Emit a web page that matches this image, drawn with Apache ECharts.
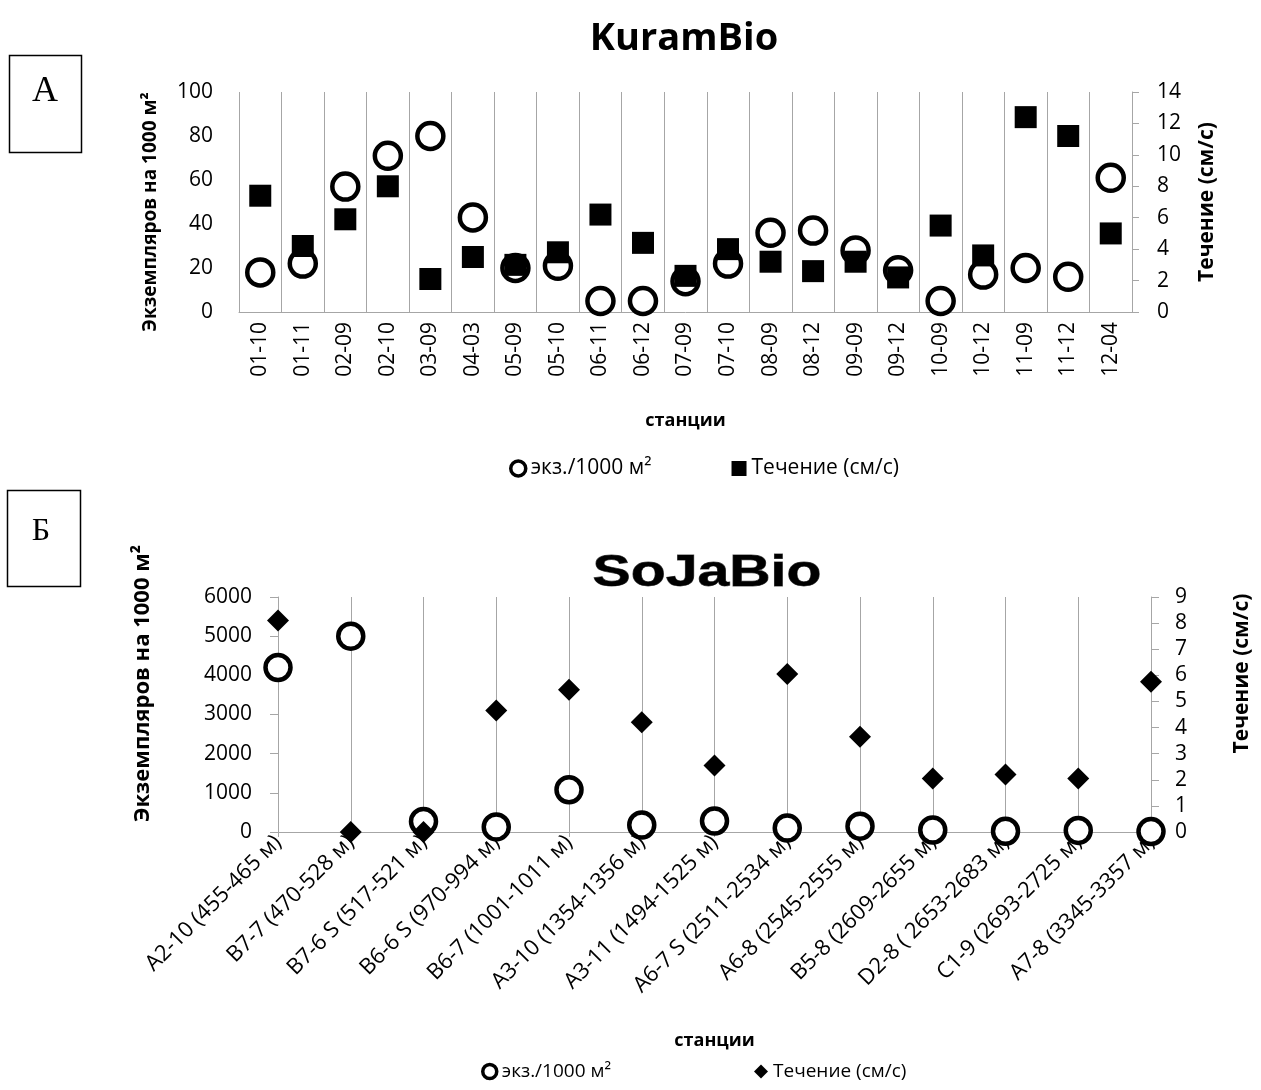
<!DOCTYPE html>
<html><head><meta charset="utf-8">
<script src="https://cdn.jsdelivr.net/npm/echarts@6/dist/echarts.min.js"></script>
<style>
html,body{margin:0;padding:0;background:#fff;}
#c1{position:absolute;left:0;top:0;width:1261px;height:480px;}
#c2{position:absolute;left:0;top:480px;width:1261px;height:610px;}
</style>
</head><body>
<div id="c1"></div><div id="c2"></div>
<script>
// ---------- DATA ----------
const kuramStations = ['01-10','01-11','02-09','02-10','03-09','04-03','05-09','05-10','06-11','06-12','07-09','07-10','08-09','08-12','09-09','09-12','10-09','10-12','11-09','11-12','12-04'];
const kuramDensity = [18, 22, 57, 71, 80, 43, 20, 21, 5, 5, 14, 22, 36, 37, 28, 19, 5, 17, 20, 16, 61];
const kuramCurrent = [7.4, 4.2, 5.9, 8.0, 2.1, 3.5, 3.0, 3.8, 6.2, 4.4, 2.3, 4.0, 3.2, 2.6, 3.2, 2.2, 5.5, 3.6, 12.4, 11.2, 5.0];

const sojaStations = ['A2-10 (455-465 м)','B7-7 (470-528 м)','B7-6 S (517-521 м)','B6-6 S (970-994 м)','B6-7 (1001-1011 м)','A3-10 (1354-1356 м)','A3-11 (1494-1525 м)','A6-7 S (2511-2534 м)','A6-8 (2545-2555 м)','B5-8 (2609-2655 м)','D2-8 ( 2653-2683 м)','C1-9 (2693-2725 м)','A7-8 (3345-3357 м)'];
const sojaDensity = [4200, 5000, 270, 130, 1080, 180, 280, 100, 150, 50, 20, 40, 10];
const sojaCurrent = [8.1, 0, 0, 4.65, 5.45, 4.2, 2.55, 6.05, 3.65, 2.05, 2.2, 2.05, 5.75];

const seriesNames = ['экз./1000 м²', 'Течение (см/с)'];
const axisNames = {density: 'Экземпляров на 1000 м²', current: 'Течение (см/с)', x: 'станции'};
const titles = ['KuramBio', 'SoJaBio'];
const panelLetters = ['А', 'Б'];

// ---------- STYLE ----------
const FONT = 'Open Sans';
const GRAY = '#a6a6a6';
const txt = (size, bold) => ({fontFamily: FONT, fontSize: size, color: '#000', fontWeight: bold ? 'bold' : 'normal'});
const plain = v => String(v);

// ---------- TOP CHART (KuramBio) ----------
const c1 = echarts.init(document.getElementById('c1'), null, {renderer: 'canvas'});
c1.setOption({
  animation: false,
  title: {text: titles[0], left: 679, top: 15, textAlign: 'center',
          textStyle: {fontFamily: FONT, fontSize: 38, fontWeight: 'bold', color: '#000'}},
  grid: {left: 239, right: 129, top: 92, height: 220},
  xAxis: {
    type: 'category', data: kuramStations, boundaryGap: true,
    axisLine: {lineStyle: {color: GRAY, width: 1}},
    axisTick: {show: false},
    splitLine: {show: true, lineStyle: {color: GRAY, width: 1}},
    axisLabel: Object.assign({rotate: 90, margin: 10, interval: 0}, txt(21)),
    name: axisNames.x, nameLocation: 'middle', nameGap: 100,
    nameTextStyle: txt(18, true)
  },
  yAxis: [
    {type: 'value', min: 0, max: 100, interval: 20, position: 'left',
     axisLine: {show: false}, axisTick: {show: false}, splitLine: {show: false},
     axisLabel: Object.assign({margin: 26, formatter: plain}, txt(21)),
     name: axisNames.density, nameLocation: 'middle', nameRotate: 90, nameGap: 79,
     nameTextStyle: Object.assign({padding: [0, 20, 0, 0]}, txt(19, true))},
    {type: 'value', min: 0, max: 14, interval: 2, position: 'right',
     axisLine: {show: true, lineStyle: {color: GRAY}},
     axisTick: {show: true, length: 7, lineStyle: {color: GRAY}},
     splitLine: {show: false},
     axisLabel: Object.assign({margin: 25, formatter: plain}, txt(21)),
     name: axisNames.current, nameLocation: 'middle', nameRotate: 90, nameGap: 65,
     nameTextStyle: txt(21, true)}
  ],
  legend: {
    left: 504, top: 453, itemGap: 80, itemWidth: 15, itemHeight: 15,
    textStyle: txt(21),
    data: [
      {name: seriesNames[0], icon: 'circle', itemStyle: {color: '#fff', borderColor: '#000', borderWidth: 3.5, opacity: 1}},
      {name: seriesNames[1], icon: 'rect', itemStyle: {color: '#000', opacity: 1}}
    ]
  },
  series: [
    {name: seriesNames[0], type: 'scatter', yAxisIndex: 0, data: kuramDensity, clip: false,
     symbol: 'circle', symbolSize: 26, z: 2,
     itemStyle: {color: '#fff', borderColor: '#000', borderWidth: 4.5, opacity: 1}},
    {name: seriesNames[1], type: 'scatter', yAxisIndex: 1, data: kuramCurrent, clip: false,
     symbol: 'rect', symbolSize: 22, z: 3,
     itemStyle: {color: '#000', opacity: 1}}
  ],
  graphic: [
    {type: 'rect', shape: {x: 9.5, y: 55.5, width: 72, height: 97}, style: {fill: '#fff', stroke: '#000', lineWidth: 1.5}},
    {type: 'text', x: 45, y: 92, style: {text: panelLetters[0], font: '36px "Liberation Serif"', fill: '#000', textAlign: 'center', textVerticalAlign: 'middle'}}
  ]
});

// ---------- BOTTOM CHART (SoJaBio) ----------
const c2 = echarts.init(document.getElementById('c2'), null, {renderer: 'canvas'});
c2.setOption({
  animation: false,
  grid: {left: 278, right: 107, top: 117, height: 235},
  xAxis: {
    type: 'category', data: sojaStations, boundaryGap: false,
    axisLine: {lineStyle: {color: GRAY, width: 1}},
    axisTick: {show: true, length: 5, lineStyle: {color: GRAY}},
    splitLine: {show: true, lineStyle: {color: GRAY, width: 1}},
    axisLabel: Object.assign({rotate: 45, margin: 7, interval: 0}, txt(22)),
    name: axisNames.x, nameLocation: 'middle', nameGap: 200,
    nameTextStyle: txt(18, true)
  },
  yAxis: [
    {type: 'value', min: 0, max: 6000, interval: 1000, position: 'left',
     axisLine: {show: true, lineStyle: {color: GRAY}},
     axisTick: {show: true, length: 8, lineStyle: {color: GRAY}},
     splitLine: {show: false},
     axisLabel: Object.assign({margin: 26, formatter: plain}, txt(21)),
     name: axisNames.density, nameLocation: 'middle', nameRotate: 90, nameGap: 124,
     nameTextStyle: Object.assign({padding: [0, 0, 0, 62]}, txt(22, true))},
    {type: 'value', min: 0, max: 9, interval: 1, position: 'right',
     axisLine: {show: true, lineStyle: {color: GRAY}},
     axisTick: {show: true, length: 8, lineStyle: {color: GRAY}},
     splitLine: {show: false},
     axisLabel: Object.assign({margin: 24, formatter: plain}, txt(21)),
     name: axisNames.current, nameLocation: 'middle', nameRotate: 90, nameGap: 81,
     nameTextStyle: Object.assign({padding: [0, 0, 0, 82]}, txt(21, true))}
  ],
  legend: {
    left: 476, top: 577, itemGap: 143, itemWidth: 14, itemHeight: 14,
    textStyle: txt(19),
    data: [
      {name: seriesNames[0], icon: 'circle', itemStyle: {color: '#fff', borderColor: '#000', borderWidth: 3.5, opacity: 1}},
      {name: seriesNames[1], icon: 'diamond', itemStyle: {color: '#000', opacity: 1}}
    ]
  },
  series: [
    {name: seriesNames[0], type: 'scatter', yAxisIndex: 0, data: sojaDensity, clip: false,
     symbol: 'circle', symbolSize: 25, z: 2,
     itemStyle: {color: '#fff', borderColor: '#000', borderWidth: 4.5, opacity: 1}},
    {name: seriesNames[1], type: 'scatter', yAxisIndex: 1, data: sojaCurrent, clip: false,
     symbol: 'diamond', symbolSize: 22, z: 3,
     itemStyle: {color: '#000', opacity: 1}}
  ],
  graphic: [
    {type: 'rect', shape: {x: 7.5, y: 10.5, width: 73, height: 96}, style: {fill: '#fff', stroke: '#000', lineWidth: 1.5}},
    {type: 'text', x: 41, y: 52, style: {text: panelLetters[1], font: '32px "Liberation Serif"', fill: '#000', textAlign: 'center', textVerticalAlign: 'middle'}},
    {type: 'text', x: 707, y: 94, scaleX: 1.3, style: {text: titles[1], font: 'bold 44px "Liberation Sans"', fill: '#000', stroke: '#555', lineWidth: 0.8, textAlign: 'center', textVerticalAlign: 'middle'}}
  ]
});
</script>
</body></html>
